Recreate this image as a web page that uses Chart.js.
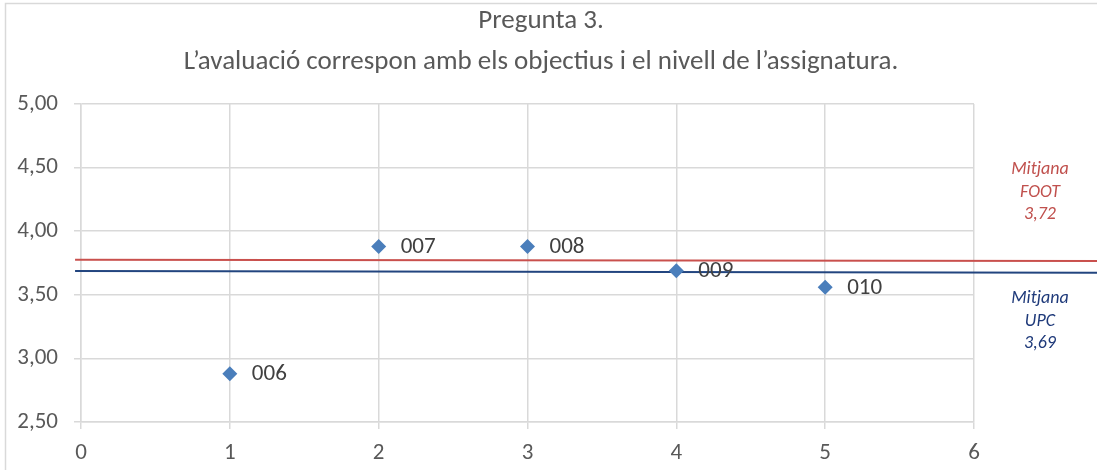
<!DOCTYPE html>
<html>
<head>
<meta charset="utf-8">
<script src="https://cdn.jsdelivr.net/npm/chart.js@4.4.1/dist/chart.umd.min.js"></script>
<style>
  body { margin: 0; background: #fff; }
  #wrap { width: 1097px; height: 470px; }
</style>
</head>
<body>
<div id="wrap"><canvas id="chart"></canvas></div>
<script>
// dades de la pregunta 3
const xValues = [1, 2, 3, 4, 5];
const yValues = [2.88, 3.88, 3.88, 3.69, 3.56];
const pointLabels = ['006', '007', '008', '009', '010'];

// linies de mitjana (extrems esquerre i dret)
const meanLineX = [-0.04, 6.83];
const footLine = [3.776, 3.766];
const upcLine = [3.687, 3.674];
const footText = ['Mitjana', 'FOOT', '3,72'];
const upcText = ['Mitjana', 'UPC', '3,69'];

const titleLines = ['Pregunta 3.', 'L\u2019avaluació correspon amb els objectius i el nivell de l\u2019assignatura.'];

const FONT = 'Carlito, "Liberation Sans", sans-serif';
const GRID = '#d9d9d9';

const framePlugin = {
  id: 'frame',
  beforeDraw(chart) {
    const { ctx, width, height } = chart;
    ctx.save();
    ctx.fillStyle = '#fff';
    ctx.fillRect(0, 0, width, height);
    ctx.strokeStyle = GRID;
    ctx.lineWidth = 1.5;
    ctx.beginPath();
    ctx.moveTo(5.5, height);
    ctx.lineTo(5.5, 3.5);
    ctx.lineTo(width, 3.5);
    ctx.stroke();

    // titol centrat a tota l'amplada
    ctx.font = '27px ' + FONT;
    ctx.fillStyle = '#595959';
    ctx.textAlign = 'center';
    ctx.textBaseline = 'middle';
    ctx.fillText(titleLines[0], 541, 21);
    ctx.fillText(titleLines[1], 541, 62);
    ctx.restore();
  },
};

const labelsPlugin = {
  id: 'pointLabels',
  afterDatasetsDraw(chart) {
    const { ctx, chartArea, scales } = chart;
    const meta = chart.getDatasetMeta(0);
    ctx.save();
    ctx.font = '23px ' + FONT;
    ctx.fillStyle = '#404040';
    ctx.textAlign = 'left';
    ctx.textBaseline = 'middle';
    meta.data.forEach((pt, i) => {
      ctx.fillText(pointLabels[i], pt.x + 22, pt.y + 1);
    });

    // textos de les mitjanes
    ctx.font = 'italic 18px ' + FONT;
    ctx.textAlign = 'center';
    const cx = chartArea.right + 66;
    const footY = scales.y.getPixelForValue(footLine[1]);
    const upcY = scales.y.getPixelForValue(upcLine[1]);
    ctx.fillStyle = '#c0504d';
    footText.forEach((t, i) => ctx.fillText(t, cx, footY - 91 + i * 22.5));
    ctx.fillStyle = '#1f3a7a';
    upcText.forEach((t, i) => ctx.fillText(t, cx, upcY + 26 + i * 22.5));
    ctx.restore();
  },
};

const tickFmt = (v) => v.toFixed(2).replace('.', ',');

new Chart('chart', {
  type: 'scatter',
  data: {
    datasets: [
      {
        data: xValues.map((x, i) => ({ x: x, y: yValues[i] })),
        pointStyle: 'rectRot',
        pointRadius: 7.5,
        backgroundColor: '#4a7ebb',
        borderColor: '#4a7ebb',
        borderWidth: 0,
        order: 1,
      },
      {
        type: 'line',
        data: meanLineX.map((x, i) => ({ x: x, y: footLine[i] })),
        borderColor: '#c9504d',
        borderWidth: 2,
        pointRadius: 0,
        clip: false,
        order: 2,
      },
      {
        type: 'line',
        data: meanLineX.map((x, i) => ({ x: x, y: upcLine[i] })),
        borderColor: '#22457f',
        borderWidth: 2,
        pointRadius: 0,
        clip: false,
        order: 2,
      },
    ],
  },
  options: {
    responsive: true,
    maintainAspectRatio: false,
    animation: false,
    layout: { padding: { left: 10, right: 123, top: 104, bottom: 0 } },
    plugins: {
      legend: { display: false },
      tooltip: { enabled: false },
      title: { display: false },
    },
    scales: {
      x: {
        type: 'linear',
        min: 0,
        max: 6,
        ticks: { stepSize: 1, color: '#595959', font: { family: FONT, size: 23 }, padding: 10 },
        grid: { color: GRID, lineWidth: 1.5, tickLength: 7 },
        border: { color: GRID, width: 1.5 },
        afterFit: (s) => { s.height = 48; },
      },
      y: {
        min: 2.5,
        max: 5,
        ticks: { stepSize: 0.5, color: '#595959', font: { family: FONT, size: 23 }, padding: 16, callback: tickFmt },
        grid: { color: GRID, lineWidth: 1.5, tickLength: 7 },
        border: { color: GRID, width: 1.5 },
        afterFit: (s) => { s.width = 71; },
      },
    },
  },
  plugins: [framePlugin, labelsPlugin],
});
</script>
</body>
</html>
